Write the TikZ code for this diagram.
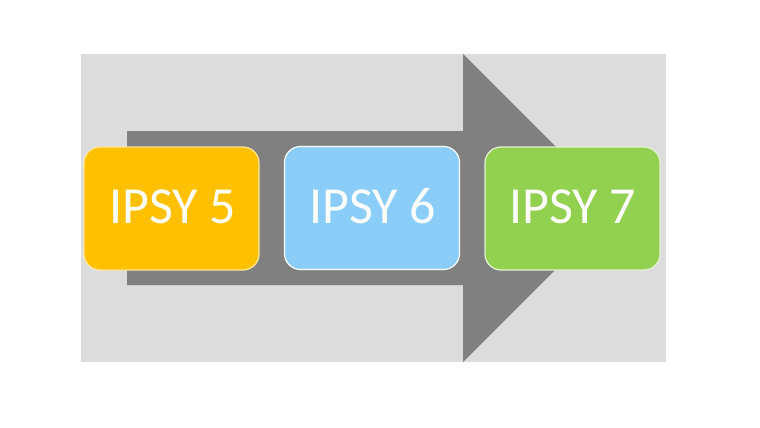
\documentclass[tikz,border=0pt]{standalone}
\usepackage{fontspec}
\setmainfont{Carlito}
\definecolor{bggray}{HTML}{DCDCDC}
\definecolor{arrowgray}{HTML}{808080}
\definecolor{ipsyyellow}{HTML}{FFC000}
\definecolor{ipsyblue}{HTML}{89CDF8}
\definecolor{ipsygreen}{HTML}{92D050}
\begin{document}
\begin{tikzpicture}[x=1pt,y=-1pt,
  ipsybox/.style={draw, line width=1.2pt, rounded corners=16pt, minimum width=175pt, minimum height=123pt, inner sep=0pt},
  ipsytext/.style={text=white, inner sep=0pt, font=\fontsize{52}{60}\selectfont}]
\useasboundingbox (0,0) rectangle (760,428);
\fill[bggray] (81,54) rectangle (666,362);
\fill[arrowgray] (127,131) -- (463,131) -- (463,54) -- (617,208) -- (463,362) -- (463,285) -- (127,285) -- cycle;
\node[ipsybox, fill=ipsyyellow, draw=ipsyyellow!40!white] (y5) at (171.5,208.5) {};
\node[ipsybox, fill=ipsyblue, draw=white] (b6) at (372,208) {};
\node[ipsybox, fill=ipsygreen, draw=ipsygreen!25!white] (g7) at (572.5,208.5) {};
\node[ipsytext, anchor=base] (t5) at (172.5,223) {IPSY 5};
\node[ipsytext, anchor=base] (t6) at (372.5,223) {IPSY 6};
\node[ipsytext, anchor=base] (t7) at (572.5,223) {IPSY 7};
\end{tikzpicture}
\end{document}
